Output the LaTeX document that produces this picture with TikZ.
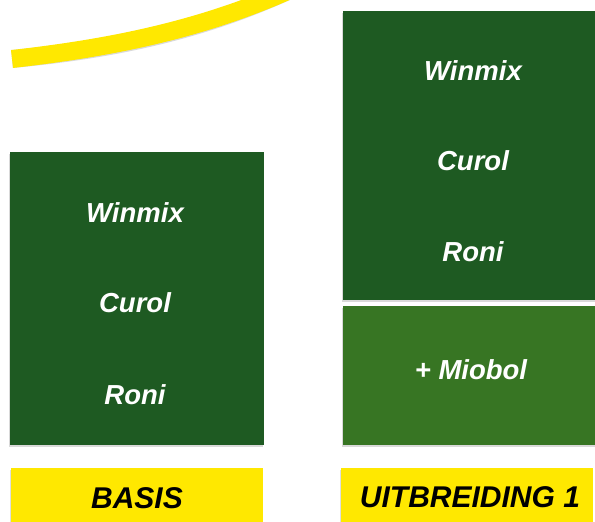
\documentclass[tikz,border=0pt]{standalone}
\usepackage{fontspec}
\setmainfont{Liberation Sans}
\usetikzlibrary{shadows}
\definecolor{darkgreen}{RGB}{30,90,34}
\definecolor{midgreen}{RGB}{55,117,35}
\definecolor{signyellow}{RGB}{255,232,0}
\begin{document}
\begin{tikzpicture}[x=1pt, y=-1pt,
                box/.style={fill=darkgreen, anchor=north west, inner sep=0pt,
                        minimum width=260pt,
                        drop shadow={shadow xshift=-1pt, shadow yshift=-2pt, opacity=.3}},
                tag/.style={fill=signyellow, anchor=north west, inner sep=0pt,
                        minimum width=252pt, minimum height=60pt,
                        drop shadow={shadow xshift=-1pt, shadow yshift=-2pt, opacity=.25}},
                product/.style={text=white, inner sep=0pt,
                        font=\fontsize{27.5}{33}\selectfont\bfseries\itshape},
                tagtext/.style={text=black, inner sep=0pt,
                        font=\fontsize{30}{36}\selectfont\bfseries\itshape}]
            \useasboundingbox (0,0) rectangle (595,522);
            \clip (0,0) rectangle (595,522);
            % yellow swoosh
            \coordinate (swooshstart) at (12,59);
            \coordinate (swooshend) at (290,-10);
            \draw[line width=18pt, black, opacity=.15, xshift=-1pt, yshift=-2pt]
                (swooshstart) .. controls (110,48) and (200,30) .. (swooshend);
            \draw[line width=18pt, signyellow]
                (swooshstart) .. controls (110,48) and (200,30) .. (swooshend);
            % basis
            \node[box, minimum width=254pt, minimum height=293pt] (basisbox) at (10,152) {};
            \node[product] (basiswinmix) at (135,213) {Winmix};
            \node[product] (basiscurol) at (135,303) {Curol};
            \node[product] (basisroni) at (135,395) {Roni};
            \node[tag] (basistag) at (11,468) {};
            \node[tagtext] (basistext) at (137,498) {BASIS};
            % uitbreiding 1
            \node[box, minimum height=289pt] (uitbox) at (343,11) {};
            \node[product] (uitwinmix) at (473,71) {Winmix};
            \node[product] (uitcurol) at (473,161) {Curol};
            \node[product] (uitroni) at (473,252) {Roni};
            \node[box, fill=midgreen, minimum height=139pt] (miobolbox) at (343,306) {};
            \node[product] (miobol) at (471,370) {+ Miobol};
            \node[tag] (uittag) at (341,468) {};
            \node[tagtext] (uittext) at (470,497) {UITBREIDING 1};
\end{tikzpicture}
\end{document}
